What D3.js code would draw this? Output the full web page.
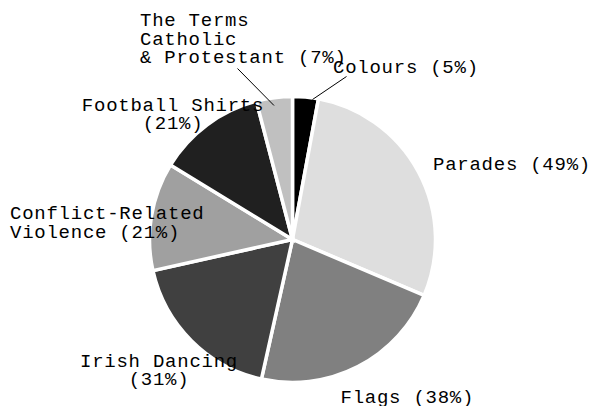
<!DOCTYPE html>
<html>
<head>
<meta charset="utf-8">
<script src="https://cdn.jsdelivr.net/npm/d3@7"></script>
<style>
  html, body { margin: 0; padding: 0; background: #fff; }
  svg { display: block; }
  text { font-family: "Liberation Mono", "Courier New", monospace; font-size: 19px; letter-spacing: 0.75px; fill: #000; }
</style>
</head>
<body>
<svg id="chart" width="595" height="406"></svg>
<script>
// ---- data ----
const categories = ["Colours", "Parades", "Flags", "Irish Dancing", "Conflict-Related\nViolence", "Football Shirts", "The Terms\nCatholic\n& Protestant"];
const values = [5, 49, 38, 31, 21, 21, 7];
const colors = ["#000000", "#dedede", "#808080", "#404040", "#a0a0a0", "#202020", "#c0c0c0"];

// ---- layout (label placement relative to pie centre) ----
const labelLayout = [
  { dx: 40.5,   dy: -166.8, anchor: "start",  pctNewLine: false, leader: [54, -163, 20, -140] },
  { dx: 140.5,  dy: -69.5,  anchor: "start",  pctNewLine: false },
  { dx: 48,     dy: 163.5,  anchor: "start",  pctNewLine: false },
  { dx: -133.5, dy: 127.2,  anchor: "middle", pctNewLine: true },
  { dx: -282.5, dy: -20.2,  anchor: "start",  pctNewLine: false },
  { dx: -119.5, dy: -128.8, anchor: "middle", pctNewLine: true },
  { dx: -152.5, dy: -213.5, anchor: "start",  pctNewLine: false, leader: [-55, -171, -18.5, -134] }
];

const width = 595, height = 406;
const cx = 292.5, cy = 239.5, radius = 143;
const lineH = 18.7;

const svg = d3.select("#chart");
const g = svg.append("g").attr("transform", `translate(${cx},${cy})`);

const pie = d3.pie().sort(null).value(d => d.value);
const arc = d3.arc().innerRadius(0).outerRadius(radius);

const data = categories.map((c, i) => ({ name: c, value: values[i], color: colors[i], layout: labelLayout[i] }));
const arcs = pie(data);

g.selectAll("path.slice")
  .data(arcs)
  .join("path")
  .attr("class", "slice")
  .attr("d", arc)
  .attr("fill", d => d.data.color)
  .attr("stroke", "#fff")
  .attr("stroke-width", 3.5)
  .attr("stroke-linejoin", "miter");

// leader lines
g.selectAll("line.leader")
  .data(arcs.filter(d => d.data.layout.leader))
  .join("line")
  .attr("class", "leader")
  .attr("x1", d => d.data.layout.leader[0])
  .attr("y1", d => d.data.layout.leader[1])
  .attr("x2", d => d.data.layout.leader[2])
  .attr("y2", d => d.data.layout.leader[3])
  .attr("stroke", "#000")
  .attr("stroke-width", 1);

// labels
arcs.forEach(d => {
  const L = d.data.layout;
  const lines = d.data.name.split("\n");
  const pct = "(" + d.data.value + "%)";
  if (L.pctNewLine) lines.push(pct);
  else lines[lines.length - 1] += " " + pct;
  const t = g.append("text")
    .attr("text-anchor", L.anchor)
    .attr("x", L.dx)
    .attr("y", L.dy);
  lines.forEach((ln, k) => {
    t.append("tspan").attr("x", L.dx).attr("y", L.dy + k * lineH).text(ln);
  });
});
</script>
</body>
</html>
